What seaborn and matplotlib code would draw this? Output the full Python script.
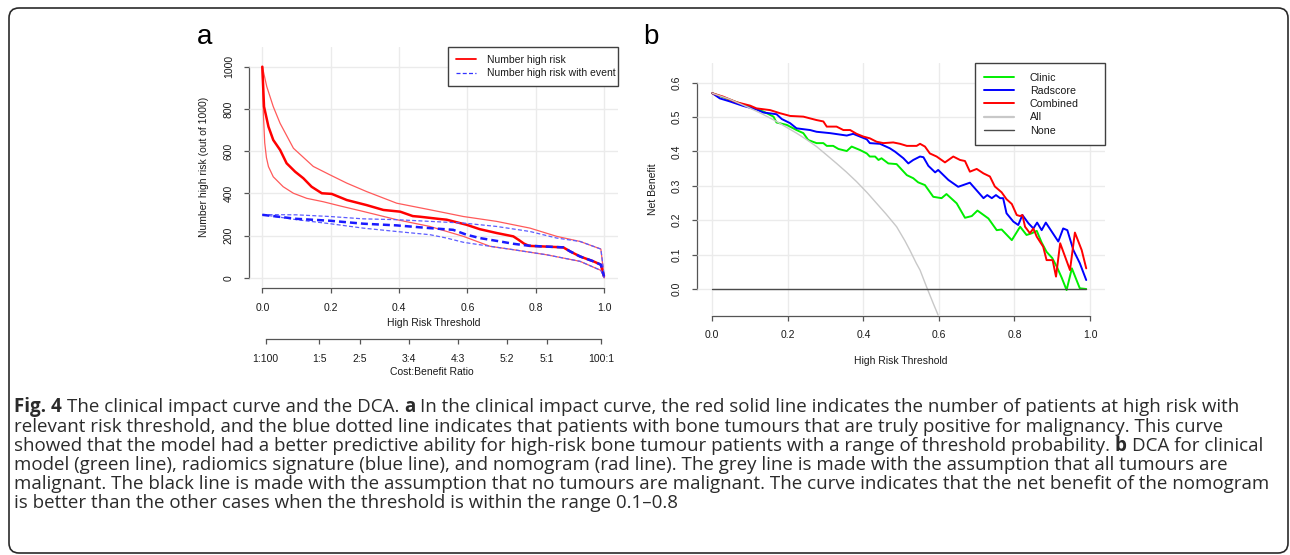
import numpy as np
import pandas as pd
import matplotlib
matplotlib.use("Agg")
import matplotlib.pyplot as plt
import seaborn as sns
from matplotlib.lines import Line2D
from matplotlib.patches import FancyBboxPatch
from matplotlib.transforms import IdentityTransform

W, H, DPI = 1290, 555, 100

# ---------------- Panel a: clinical impact curve ----------------
a_xticks = [0.0, 0.2, 0.4, 0.6, 0.8, 1.0]
a_yticks = [0, 200, 400, 600, 800, 1000]
cost_benefit_labels = ["1:100", "1:5", "2:5", "3:4", "4:3", "5:2", "5:1", "100:1"]
a_legend_labels = ["Number high risk", "Number high risk with event"]

hr_x = [0.0, 0.005, 0.018, 0.032, 0.052, 0.071, 0.096, 0.12, 0.144, 0.174, 0.203, 0.247,
        0.305, 0.354, 0.403, 0.44, 0.461, 0.52, 0.539, 0.597, 0.636, 0.685, 0.734, 0.75,
        0.765, 0.78, 0.812, 0.88, 0.9, 0.929, 0.968, 0.99, 0.999]
hr_y = [1000, 811, 716, 653, 606, 543, 503, 472, 432, 401, 398, 369,
        345, 322, 314, 293, 290, 279, 276, 252, 231, 213, 197, 180,
        163, 152, 150, 145, 126, 102, 79, 63, 8]

hr_hi_x = [0.0, 0.013, 0.032, 0.052, 0.091, 0.149, 0.198, 0.247, 0.305, 0.393, 0.49,
           0.588, 0.685, 0.783, 0.861, 0.929, 0.99, 1.0]
hr_hi_y = [1000, 906, 811, 732, 614, 528, 488, 449, 409, 354, 323,
           291, 268, 236, 197, 173, 137, 0]

hr_lo_x = [0.0, 0.003, 0.007, 0.012, 0.018, 0.032, 0.061, 0.091, 0.13, 0.178, 0.23, 0.295,
           0.393, 0.49, 0.588, 0.666, 0.734, 0.831, 0.929, 0.99, 1.0]
hr_lo_y = [1000, 780, 640, 570, 527, 479, 432, 401, 377, 361, 340, 315,
           276, 244, 197, 150, 134, 110, 79, 36, 5]

ev_x = [0.0, 0.1, 0.198, 0.295, 0.393, 0.49, 0.558, 0.597, 0.636, 0.695, 0.734, 0.773,
        0.812, 0.88, 0.9, 0.929, 0.968, 0.99, 0.999]
ev_y = [299, 280, 271, 257, 249, 236, 228, 205, 189, 173, 162, 154,
        150, 145, 126, 102, 79, 63, 8]

ev_hi_x = [0.0, 0.1, 0.198, 0.295, 0.393, 0.49, 0.588, 0.685, 0.783, 0.861, 0.929, 0.99, 1.0]
ev_hi_y = [300, 299, 291, 280, 276, 268, 260, 244, 220, 189, 173, 137, 8]

ev_lo_x = [0.0, 0.1, 0.198, 0.295, 0.393, 0.49, 0.539, 0.588, 0.666, 0.734, 0.831, 0.929, 0.99, 1.0]
ev_lo_y = [300, 276, 257, 236, 220, 205, 189, 169, 150, 134, 110, 79, 36, 0]

# ---------------- Panel b: decision curve analysis ----------------
b_xticks = [0.0, 0.2, 0.4, 0.6, 0.8, 1.0]
b_yticks = [0.0, 0.1, 0.2, 0.3, 0.4, 0.5, 0.6]
b_series = ["Clinic", "Radscore", "Combined", "All", "None"]

clinic_x = [0.0, 0.047, 0.091, 0.135, 0.162, 0.17, 0.197, 0.223, 0.241, 0.254, 0.276, 0.294,
            0.303, 0.32, 0.334, 0.356, 0.369, 0.391, 0.409, 0.417, 0.431, 0.44, 0.448, 0.466,
            0.488, 0.515, 0.532, 0.545, 0.563, 0.585, 0.607, 0.62, 0.647, 0.669, 0.687, 0.702,
            0.731, 0.753, 0.766, 0.793, 0.815, 0.832, 0.846, 0.859, 0.872, 0.885, 0.9, 0.912,
            0.925, 0.938, 0.952, 0.973, 0.99]
clinic_y = [0.569, 0.55, 0.532, 0.516, 0.501, 0.484, 0.477, 0.462, 0.453, 0.433, 0.424, 0.424,
            0.416, 0.416, 0.407, 0.401, 0.414, 0.404, 0.394, 0.385, 0.385, 0.375, 0.38, 0.365,
            0.363, 0.331, 0.322, 0.31, 0.302, 0.268, 0.264, 0.276, 0.249, 0.207, 0.212, 0.228,
            0.205, 0.171, 0.173, 0.142, 0.181, 0.157, 0.162, 0.169, 0.135, 0.108, 0.09, 0.065,
            0.033, -0.003, 0.06, 0.002, 0.0]

rad_x = [0.0, 0.02, 0.047, 0.082, 0.117, 0.135, 0.17, 0.184, 0.206, 0.223, 0.259, 0.276,
         0.312, 0.356, 0.373, 0.391, 0.409, 0.417, 0.444, 0.47, 0.484, 0.506, 0.519, 0.532,
         0.55, 0.559, 0.572, 0.59, 0.598, 0.625, 0.651, 0.682, 0.718, 0.728, 0.74, 0.751,
         0.762, 0.77, 0.779, 0.797, 0.81, 0.821, 0.837, 0.85, 0.86, 0.872, 0.883, 0.916,
         0.929, 0.94, 0.956, 0.973, 0.99]
rad_y = [0.569, 0.554, 0.545, 0.532, 0.522, 0.513, 0.508, 0.494, 0.482, 0.467, 0.462, 0.457,
         0.453, 0.446, 0.451, 0.443, 0.435, 0.424, 0.422, 0.409, 0.399, 0.38, 0.365, 0.375,
         0.385, 0.383, 0.358, 0.339, 0.346, 0.317, 0.297, 0.309, 0.264, 0.273, 0.264, 0.273,
         0.264, 0.264, 0.22, 0.196, 0.186, 0.215, 0.191, 0.176, 0.193, 0.171, 0.193, 0.138,
         0.176, 0.171, 0.113, 0.075, 0.026]

comb_x = [0.0, 0.029, 0.064, 0.1, 0.117, 0.153, 0.179, 0.206, 0.241, 0.276, 0.294, 0.303,
          0.329, 0.347, 0.365, 0.382, 0.4, 0.417, 0.435, 0.453, 0.479, 0.497, 0.515, 0.541,
          0.55, 0.563, 0.576, 0.594, 0.616, 0.638, 0.656, 0.669, 0.682, 0.7, 0.718, 0.735,
          0.748, 0.766, 0.779, 0.793, 0.806, 0.815, 0.821, 0.828, 0.841, 0.85, 0.859, 0.876,
          0.885, 0.901, 0.91, 0.921, 0.947, 0.96, 0.978, 0.99]
comb_y = [0.569, 0.559, 0.543, 0.533, 0.525, 0.52, 0.511, 0.503, 0.501, 0.491, 0.487, 0.472,
          0.472, 0.462, 0.462, 0.451, 0.443, 0.438, 0.428, 0.424, 0.426, 0.422, 0.416, 0.416,
          0.422, 0.414, 0.394, 0.385, 0.368, 0.385, 0.375, 0.372, 0.341, 0.349, 0.336, 0.327,
          0.298, 0.281, 0.261, 0.247, 0.215, 0.212, 0.215, 0.181, 0.162, 0.176, 0.152, 0.123,
          0.084, 0.084, 0.036, 0.133, 0.055, 0.164, 0.113, 0.06]

all_x = [0.0, 0.045, 0.091, 0.13, 0.17, 0.223, 0.25, 0.276, 0.30, 0.329, 0.355, 0.382,
         0.41, 0.435, 0.46, 0.488, 0.51, 0.523, 0.54, 0.55, 0.567, 0.585, 0.598]
all_y = [0.569, 0.552, 0.53, 0.51, 0.487, 0.453, 0.434, 0.414, 0.392, 0.365, 0.34, 0.312,
         0.28, 0.249, 0.218, 0.181, 0.14, 0.113, 0.075, 0.055, 0.007, -0.042, -0.076]

none_x = [0.0, 0.99]
none_y = [0.0, 0.0]

# caption: each line is a list of (text, bold) segments separated by one space
caption_lines = [
    [("Fig. 4", True), ("The clinical impact curve and the DCA.", False), ("a", True),
     ("In the clinical impact curve, the red solid line indicates the number of patients at high risk with", False)],
    [("relevant risk threshold, and the blue dotted line indicates that patients with bone tumours that are truly positive for malignancy. This curve", False)],
    [("showed that the model had a better predictive ability for high-risk bone tumour patients with a range of threshold probability.", False),
     ("b", True), ("DCA for clinical", False)],
    [("model (green line), radiomics signature (blue line), and nomogram (rad line). The grey line is made with the assumption that all tumours are", False)],
    [("malignant. The black line is made with the assumption that no tumours are malignant. The curve indicates that the net benefit of the nomogram", False)],
    [("is better than the other cases when the threshold is within the range 0.1\u20130.8", False)],
]

# ---------------- style ----------------
sns.set_theme(style="white")
plt.rcParams['font.family'] = ['Liberation Sans', 'DejaVu Sans']

AX_COL = '#555555'
TXT_COL = '#1a1a1a'
GRID_COL = '#ebebeb'
FS = 7.5

fig = plt.figure(figsize=(W / DPI, H / DPI), dpi=DPI)
fig.patch.set_facecolor('white')
renderer = fig.canvas.get_renderer()


def rect(l, t, r, b):
    return [l / W, 1 - b / H, (r - l) / W, (b - t) / H]


def ftext(px, py, s, **kw):
    return fig.text(px / W, 1 - py / H, s, **kw)


def r_axes(ax, xt, yt, xlim, ylim):
    ax.set_xlim(xlim)
    ax.set_ylim(ylim)
    ax.set_xticks(xt)
    ax.set_yticks(yt)
    ax.set_facecolor('white')
    for s in ['top', 'right']:
        ax.spines[s].set_visible(False)
    ax.spines['left'].set_bounds(yt[0], yt[-1])
    ax.spines['bottom'].set_bounds(xt[0], xt[-1])
    for s in ['left', 'bottom']:
        ax.spines[s].set_color(AX_COL)
        ax.spines[s].set_linewidth(0.9)
        ax.spines[s].set_zorder(0.5)
    ax.tick_params(direction='out', length=3.6, width=0.9, color=AX_COL,
                   labelsize=FS, labelcolor=TXT_COL, pad=7, left=True, bottom=True)
    ax.grid(True, color=GRID_COL, linewidth=1.0)
    ax.set_axisbelow(True)
    ax.set_xlabel('')
    ax.set_ylabel('')
    for lab in ax.get_yticklabels():
        lab.set_rotation(90)
        lab.set_va('center')


# ---------------- Panel a ----------------
axA = fig.add_axes(rect(248.6, 46.7, 618.0, 288.0))
a_lines = [
    (hr_hi_x, hr_hi_y, '#ff5a5a', 0.9, '-'),
    (hr_lo_x, hr_lo_y, '#ff5a5a', 0.9, '-'),
    (hr_x, hr_y, '#ff0000', 1.8, '-'),
    (ev_hi_x, ev_hi_y, '#5c5cff', 0.9, (0, (3.2, 1.8))),
    (ev_lo_x, ev_lo_y, '#5c5cff', 0.9, (0, (3.2, 1.8))),
    (ev_x, ev_y, '#1a1aff', 1.8, (0, (2.8, 1.6))),
]
for xs, ys, c, lw, ls in a_lines:
    sns.lineplot(x=xs, y=ys, ax=axA, color=c, linewidth=lw, linestyle=ls,
                 estimator=None, sort=False)
r_axes(axA, a_xticks, a_yticks, (-0.0401, 1.0401), (-47.3, 1094.6))
a_handles = [Line2D([], [], color='#ff0000', lw=1.3),
             Line2D([], [], color='#3333ff', lw=0.9, ls=(0, (3.2, 1.8)))]
legA = axA.legend(a_handles, a_legend_labels, loc='upper right',
                  bbox_to_anchor=(0.5406, 0.0, 0.4594, 1.0), mode='expand',
                  borderaxespad=0, fancybox=False, framealpha=1, edgecolor='#404040',
                  fontsize=FS, handlelength=1.9, handletextpad=1.0,
                  borderpad=0.78, labelspacing=0.32)
legA.get_frame().set_linewidth(1.0)
for t in legA.get_texts():
    t.set_color(TXT_COL)

# cost:benefit axis
axC = fig.add_axes(rect(248.6, 329.0, 618.0, 339.0))
axC.set_xlim(-0.0401, 1.0401)
axC.set_ylim(0, 1)
cb_pos = [int(l.split(':')[0]) / (int(l.split(':')[0]) + int(l.split(':')[1]))
          for l in cost_benefit_labels]
axC.set_xticks(cb_pos)
axC.set_xticklabels(cost_benefit_labels)
axC.set_yticks([])
axC.patch.set_alpha(0)
for s in ['top', 'right', 'left']:
    axC.spines[s].set_visible(False)
axC.spines['bottom'].set_bounds(cb_pos[0], cb_pos[-1])
axC.spines['bottom'].set_color(AX_COL)
axC.spines['bottom'].set_linewidth(0.9)
axC.tick_params(axis='x', direction='out', length=3.6, width=0.9, color=AX_COL,
                labelsize=FS, labelcolor=TXT_COL, pad=7, bottom=True)

ftext(433.3, 322.7, "High Risk Threshold", ha='center', va='center', fontsize=FS, color=TXT_COL)
ftext(432.3, 372.0, "Cost:Benefit Ratio", ha='center', va='center', fontsize=FS, color=TXT_COL)
ftext(204.0, 167.0, "Number high risk (out of 1000)", ha='center', va='center',
      rotation=90, fontsize=FS, color=TXT_COL)
ftext(205.0, 37.0, "a", ha='center', va='center', fontsize=20, color='black')

# ---------------- Panel b ----------------
axB = fig.add_axes(rect(696.7, 63.3, 1105.0, 315.7))
b_data = [
    (clinic_x, clinic_y, '#00ee00'),
    (rad_x, rad_y, '#0000ff'),
    (comb_x, comb_y, '#ff0000'),
    (all_x, all_y, '#c8c8c8'),
    (none_x, none_y, '#4a4a4a'),
]
b_lw = [1.4, 1.4, 1.4, 1.0, 1.0]
for (xs, ys, c), lw, name in zip(b_data, b_lw, b_series):
    sns.lineplot(x=xs, y=ys, ax=axB, color=c, linewidth=lw, estimator=None,
                 sort=False, label=name, legend=False)
r_axes(axB, b_xticks, b_yticks, (-0.0413, 1.0397), (-0.0776, 0.656))
b_handle_lw = [1.4, 1.4, 1.4, 1.6, 1.0]
b_handles = [Line2D([], [], color=c, lw=lw) for (_, _, c), lw in zip(b_data, b_handle_lw)]
legB = axB.legend(b_handles, b_series, loc='upper right',
                  bbox_to_anchor=(0.6816, 0.0, 0.3184, 1.0), mode='expand',
                  borderaxespad=0, fancybox=False, framealpha=1, edgecolor='#404040',
                  fontsize=7.7, handlelength=2.75, handletextpad=1.5,
                  borderpad=0.88, labelspacing=0.3)
legB.get_frame().set_linewidth(1.0)
for t in legB.get_texts():
    t.set_color(TXT_COL)

ftext(652.7, 189.5, "Net Benefit", ha='center', va='center', rotation=90, fontsize=FS, color=TXT_COL)
ftext(901.0, 361.0, "High Risk Threshold", ha='center', va='center', fontsize=FS, color=TXT_COL)
ftext(650.5, 37.0, "b", ha='center', va='center', fontsize=20, color='black')

# ---------------- caption ----------------
CAP_FONT = 'Open Sans'
CAP_COL = '#2b2b2b'
cap_base = [412.3, 431.5, 450.7, 469.9, 489.1, 508.3]


def text_w(s, size, bold=False):
    t = fig.text(0, 0, s, family=CAP_FONT, fontsize=size,
                 fontweight='bold' if bold else 'normal')
    w = t.get_window_extent(renderer).width
    t.remove()
    return w


# fit the font size so the fifth line spans the same width as in the reference
probe_fs = 10.0
cap_fs = probe_fs * (1275 - 14) / text_w(caption_lines[4][0][0], probe_fs)
space_w = text_w("x x", cap_fs) - text_w("xx", cap_fs)

for segs, yb in zip(caption_lines, cap_base):
    x = 14.0
    for s, bold in segs:
        ftext(x, yb, s, family=CAP_FONT, fontsize=cap_fs, ha='left', va='baseline',
              color=CAP_COL, fontweight='bold' if bold else 'normal')
        x += text_w(s, cap_fs, bold) + space_w

# rounded border
border = FancyBboxPatch((9, 2), 1279, 545, boxstyle="round,pad=0,rounding_size=10",
                        transform=IdentityTransform(), fill=False, ec='#2a2a2a', lw=1.2)
fig.add_artist(border)

fig.savefig("out.png", dpi=DPI, facecolor='white')
